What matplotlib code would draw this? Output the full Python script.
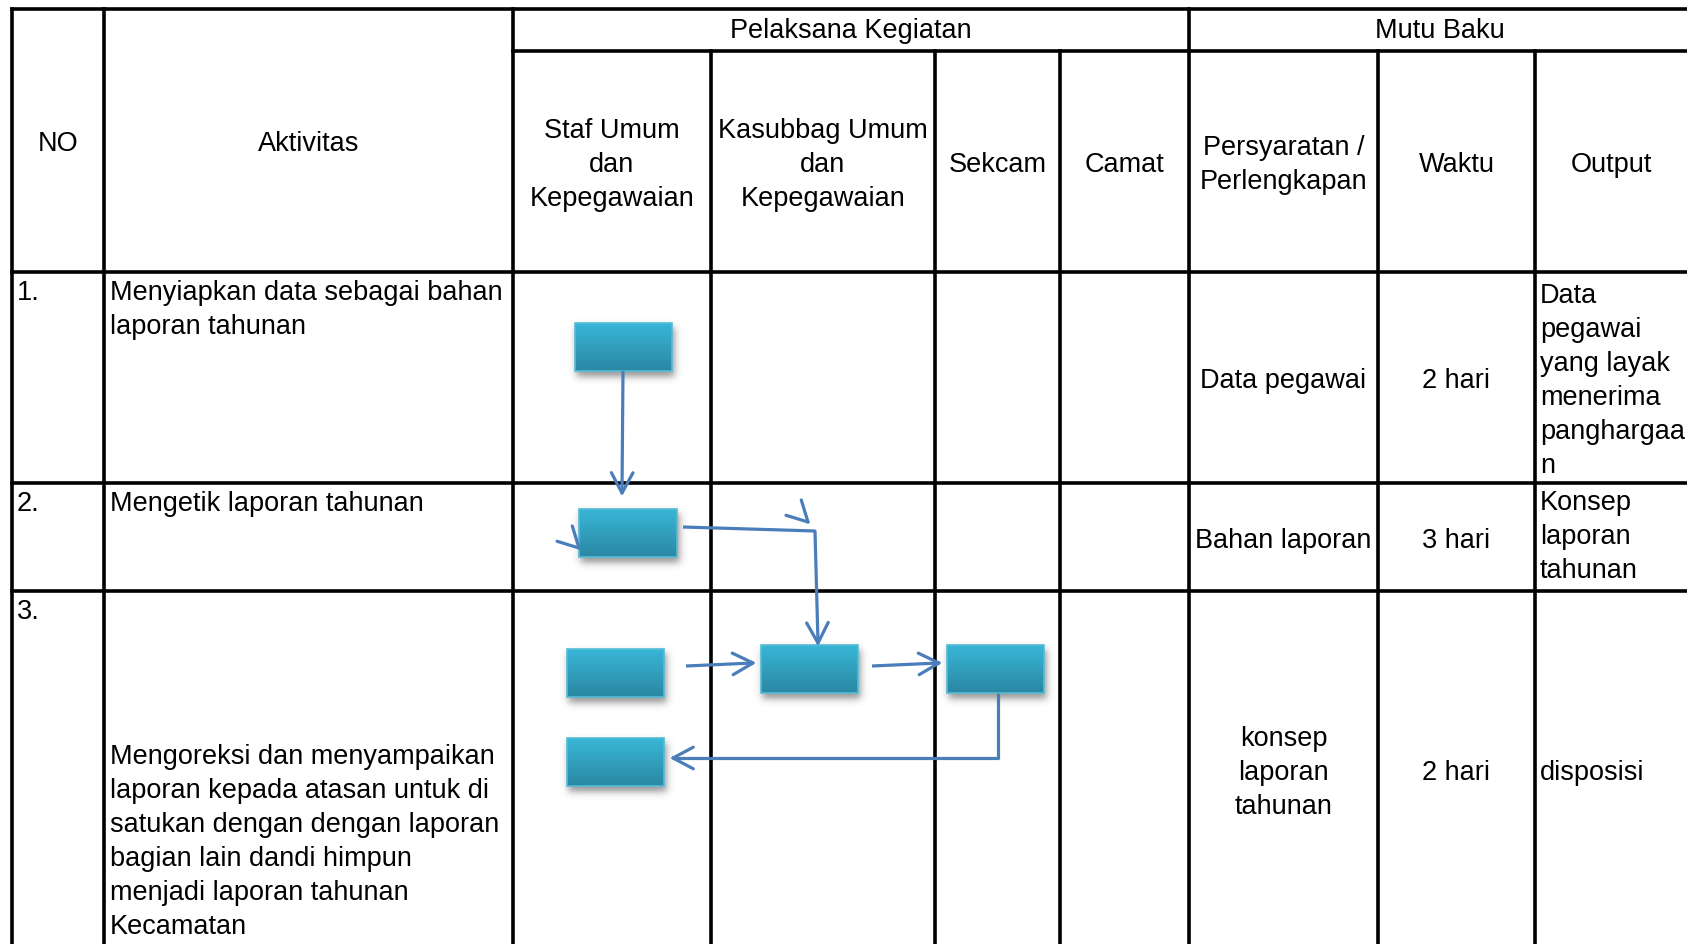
import numpy as np
import matplotlib.pyplot as plt
from matplotlib.patches import Rectangle

plt.rcParams['font.family'] = ['Liberation Sans', 'DejaVu Sans']

W, H = 1687, 944
FS = 19.5          # font size (pt)
LS = 34            # line pitch (px)
LINE_C = '#4a7ebb'

# ---- table content ----
group_headers = ["Pelaksana Kegiatan", "Mutu Baku"]
col_headers = ["NO", "Aktivitas", "Staf Umum\ndan\nKepegawaian",
               "Kasubbag Umum\ndan\nKepegawaian", "Sekcam", "Camat",
               "Persyaratan /\nPerlengkapan", "Waktu", "Output"]
row_no = ["1.", "2.", "3."]
activities = ["Menyiapkan data sebagai bahan\nlaporan tahunan",
              "Mengetik laporan tahunan",
              "Mengoreksi dan menyampaikan\nlaporan kepada atasan untuk di\n"
              "satukan dengan dengan laporan\nbagian lain dandi himpun\n"
              "menjadi laporan tahunan\nKecamatan"]
requirements = ["Data pegawai", "Bahan laporan", "konsep\nlaporan\ntahunan"]
durations = ["2 hari", "3 hari", "2 hari"]
outputs = ["Data\npegawai\nyang layak\nmenerima\npanghargaa\nn",
           "Konsep\nlaporan\ntahunan", "disposisi"]

# ---- layout (pixels) ----
col_x = [12, 104, 513, 711, 935, 1060, 1189, 1378, 1535, W]
row_y = [9, 51, 272, 483, 591, 949]
out_shift = [0, -4, 0]

# flow boxes (x0, y0, x1, y1)
boxes = [(575, 323, 672, 371), (579, 509, 677, 557),
         (567, 649, 664, 697), (761, 645, 858, 693),
         (947, 645, 1044, 693), (567, 738, 664, 786)]
# connectors, arrow head at the last point
connectors = [[(623, 371), (622, 493)],
              [(683, 527), (815, 531), (818, 643)],
              [(686, 666), (753, 663)],
              [(872, 666), (939, 663)],
              [(998, 693), (998, 758), (673, 758)]]
loose_heads = [((579, 548), (1, 1)), ((808, 522), (1, 1))]

fig = plt.figure(figsize=(W / 100, H / 100), dpi=100)
ax = fig.add_axes([0, 0, 1, 1])
ax.set_xlim(0, W)
ax.set_ylim(H, 0)
ax.set_axis_off()


def put(text, x, y, ha='center', mode='center'):
    lines = text.split('\n')
    n = len(lines)
    if mode == 'center':
        y0 = y + 10.5 - (n - 1) / 2 * LS
    elif mode == 'top':
        y0 = y
    else:
        y0 = y - (n - 1) * LS
    for i, ln in enumerate(lines):
        ax.text(x, y0 + i * LS, ln, ha=ha, va='baseline', fontsize=FS, color='black')


# grid lines
lw = 2.6
kw = dict(color='black', lw=lw, solid_capstyle='projecting', zorder=3)
ax.plot([col_x[0], W], [row_y[0]] * 2, **kw)
ax.plot([col_x[2], W], [row_y[1]] * 2, **kw)
for y in row_y[2:5]:
    ax.plot([col_x[0], W], [y, y], **kw)
for i, x in enumerate(col_x[:-1]):
    top = row_y[0] if i in (0, 1, 2, 6) else row_y[1]
    ax.plot([x, x], [top, H + 5], **kw)

# headers
put(group_headers[0], (col_x[2] + col_x[6]) / 2, (row_y[0] + row_y[1]) / 2 - 2)
put(group_headers[1], (col_x[6] + col_x[9]) / 2 + 2, (row_y[0] + row_y[1]) / 2 - 2)
for i, h in enumerate(col_headers):
    top = row_y[0] if i < 2 else row_y[1]
    put(h, (col_x[i] + col_x[i + 1]) / 2, (top + row_y[2]) / 2)

# rows
for r in range(3):
    y0, y1 = row_y[r + 2], row_y[r + 3]
    cy = (y0 + y1) / 2
    put(row_no[r], col_x[0] + 5, y0 + 28, ha='left', mode='top')
    if r < 2:
        put(activities[r], col_x[1] + 6, y0 + 28, ha='left', mode='top')
    else:
        put(activities[r], col_x[1] + 6, 934, ha='left', mode='bottom')
    put(requirements[r], (col_x[6] + col_x[7]) / 2, cy)
    put(durations[r], (col_x[7] + col_x[8]) / 2, cy)
    put(outputs[r], col_x[8] + 5, cy + out_shift[r], ha='left')

# boxes with shadow and gradient
top_c = np.array([0x39, 0xb6, 0xd7]) / 255
bot_c = np.array([0x2a, 0x88, 0xa3]) / 255
for (x0, y0, x1, y1) in boxes:
    pad = 14
    xs = np.arange(x0 - pad, x1 + pad + 1)
    ys = np.arange(y0 - pad, y1 + pad + 1)
    s = 2.2
    ax_ = 1 / (1 + np.exp(-(xs - (x0 + 1)) / s)) / (1 + np.exp((xs - (x1 + 3)) / s))
    ay_ = 1 / (1 + np.exp(-(ys - (y0 + 4)) / s)) / (1 + np.exp((ys - (y1 + 6)) / s))
    alpha = np.outer(ay_, ax_) * 0.55
    sh = np.zeros((len(ys), len(xs), 4))
    sh[..., :3] = 0.25
    sh[..., 3] = alpha
    ax.imshow(sh, extent=(xs[0], xs[-1], ys[-1], ys[0]), zorder=4, interpolation='bilinear')
    t = np.linspace(0, 1, 64)[:, None]
    grad = (1 - t) * top_c + t * bot_c
    img = ax.imshow(grad[:, None, :], extent=(x0, x1, y1, y0), aspect='auto', zorder=5)
    rect = Rectangle((x0, y0), x1 - x0, y1 - y0, facecolor='none',
                     edgecolor='#55bcd6', lw=1.2, zorder=6)
    ax.add_patch(rect)
    img.set_clip_path(rect)

ax.set_xlim(0, W)
ax.set_ylim(H, 0)


def head(tip, d, L=23, ang=28):
    d = np.asarray(d, float)
    d = d / np.hypot(*d)
    a = np.radians(ang)
    for sgn in (1, -1):
        c, s = np.cos(sgn * a), np.sin(sgn * a)
        back = -np.array([c * d[0] - s * d[1], s * d[0] + c * d[1]])
        p = np.asarray(tip) + L * back
        ax.plot([p[0], tip[0]], [p[1], tip[1]], color=LINE_C, lw=2.3,
                solid_capstyle='round', zorder=7)


for pts in connectors:
    xs, ys = zip(*pts)
    ax.plot(xs, ys, color=LINE_C, lw=2.3, solid_capstyle='butt', zorder=7)
    d = np.subtract(pts[-1], pts[-2])
    head(pts[-1], d)
for tip, d in loose_heads:
    head(tip, d)

fig.savefig('out.png', dpi=100)
